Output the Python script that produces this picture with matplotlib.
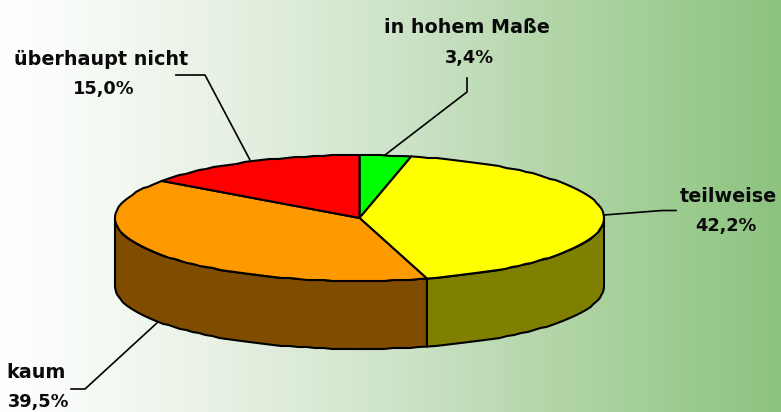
import numpy as np
import matplotlib
matplotlib.use("Agg")
import matplotlib.pyplot as plt
from matplotlib.colors import LinearSegmentedColormap

categories = ["in hohem Maße", "teilweise", "kaum", "überhaupt nicht"]
values = [3.4, 42.2, 39.5, 15.0]
value_labels = ["3,4%", "42,2%", "39,5%", "15,0%"]
top_colors = ["#00FF00", "#FFFF00", "#FF9900", "#FF0000"]
side_colors = ["#008000", "#808000", "#7F4C00", "#800000"]

W, H = 781, 412
CX, CY, A, B, DEPTH = 359.5, 218.0, 244.5, 63.0, 68.0

plt.rcParams["font.family"] = ["DejaVu Sans"]
fig = plt.figure(figsize=(W / 100, H / 100), dpi=100)
ax = fig.add_axes([0, 0, 1, 1])
ax.axis("off")

cmap = LinearSegmentedColormap.from_list(
    "bg", [(0, "#FFFFFF"), (0.12, "#F6FAF5"), (0.3, "#E6F0E2"), (0.5, "#CFE4CA"),
           (0.75, "#ADD3A2"), (1, "#8CC37F")])
ax.imshow(np.linspace(0, 1, 256)[None, :], extent=[0, W, H, 0], cmap=cmap,
          aspect="auto", zorder=0)
ax.set_xlim(0, W)
ax.set_ylim(H, 0)


def rim(t0, t1, dy=0.0):
    # slightly stepped outline like the reference's polygonal edge
    n = max(2, int(abs(t1 - t0) / 2.0))
    t = np.radians(np.linspace(t0, t1, n))
    x = CX + A * np.sin(t)
    y = CY - B * np.cos(t)
    y[1:-1] = np.round(y[1:-1])
    return x, y + dy


edges = np.concatenate([[0], np.cumsum(values)]) / np.sum(values) * 360
lw = 1.5
for i in range(len(values)):
    t0, t1 = max(edges[i], 90), min(edges[i + 1], 270)
    if t1 <= t0:
        continue
    xt, yt = rim(t0, t1)
    xb, yb = rim(t0, t1, DEPTH)
    ax.fill(np.r_[xt, xb[::-1]], np.r_[yt, yb[::-1]], fc=side_colors[i], ec="black",
            lw=lw, joinstyle="round", zorder=2)
for i in range(len(values)):
    x, y = rim(edges[i], edges[i + 1])
    ax.fill(np.r_[CX, x], np.r_[CY, y], fc=top_colors[i], ec="black", lw=lw,
            joinstyle="round", zorder=3)

leaders = [
    ([385, 467, 467], [155, 92, 78]),
    ([604, 662, 676], [215, 210.5, 210.5]),
    ([158, 85, 71], [322, 389, 389]),
    ([250, 205, 176], [160, 75, 75]),
]
for lx, ly in leaders:
    ax.plot(lx, ly, color="black", lw=1.2, zorder=1.5, solid_joinstyle="miter")

name_pos = [(467, 27), (728, 196), (36, 372), (101, 59)]
val_pos = [(469, 58), (726, 226), (39, 402), (104, 89)]
for name, val, np_, vp in zip(categories, value_labels, name_pos, val_pos):
    ax.text(np_[0], np_[1], name, ha="center", va="center", fontsize=13.8, fontweight="bold",
            color="#0a0a0a", zorder=5)
    ax.text(vp[0], vp[1], val, ha="center", va="center", fontsize=12.8, fontweight="bold",
            color="#0a0a0a", zorder=5)

fig.savefig("out.png", dpi=100)
